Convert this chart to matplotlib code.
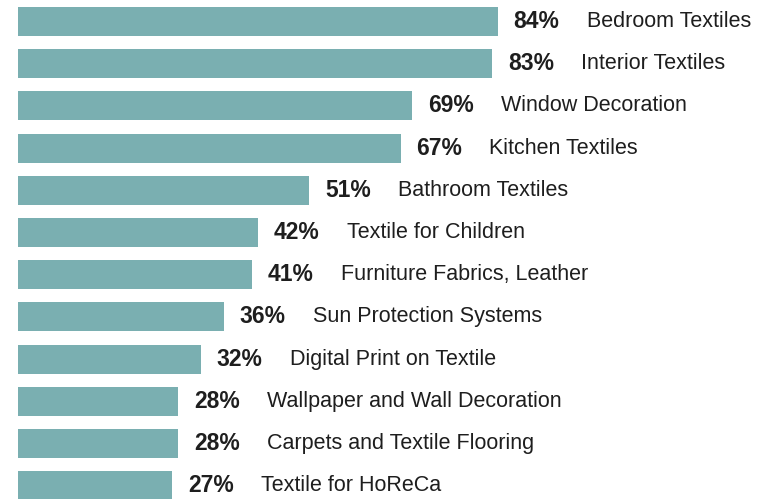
import matplotlib
matplotlib.use("Agg")
import matplotlib.pyplot as plt

# Survey results, top to bottom
categories = [
    "Bedroom Textiles",
    "Interior Textiles",
    "Window Decoration",
    "Kitchen Textiles",
    "Bathroom Textiles",
    "Textile for Children",
    "Furniture Fabrics, Leather",
    "Sun Protection Systems",
    "Digital Print on Textile",
    "Wallpaper and Wall Decoration",
    "Carpets and Textile Flooring",
    "Textile for HoReCa",
]
values = [84, 83, 69, 67, 51, 42, 41, 36, 32, 28, 28, 27]

bar_color = "#7aafb1"
text_color = "#1e1e1e"

fig = plt.figure(figsize=(7.74, 4.99), dpi=100)
ax = fig.add_axes([18 / 774, 0, 1 - 18 / 774, 1])

y = list(range(len(values)))
ax.barh(y, values, height=0.69, color=bar_color)

# pixel scale: ~5.71 px per percent, ~42.2 px per row
ax.set_xlim(0, (774 - 18) / 5.71)
ax.set_ylim((499 - 21.5) / 42.2, -21.5 / 42.2)
ax.axis("off")

fig.canvas.draw()
for yi, v, cat in zip(y, values, categories):
    pct = ax.annotate(f"{v}%", xy=(v, yi), xytext=(16, 0), textcoords="offset pixels",
                      va="center", ha="left", fontsize=16.5, fontweight="bold",
                      color=text_color, family="Liberation Sans")
    ax.annotate(cat, xy=(1, 0.5), xycoords=pct, xytext=(27, 0), textcoords="offset pixels",
                va="center", ha="left", fontsize=15.5, color=text_color,
                family="Liberation Sans")

fig.savefig("out.png", dpi=100)
